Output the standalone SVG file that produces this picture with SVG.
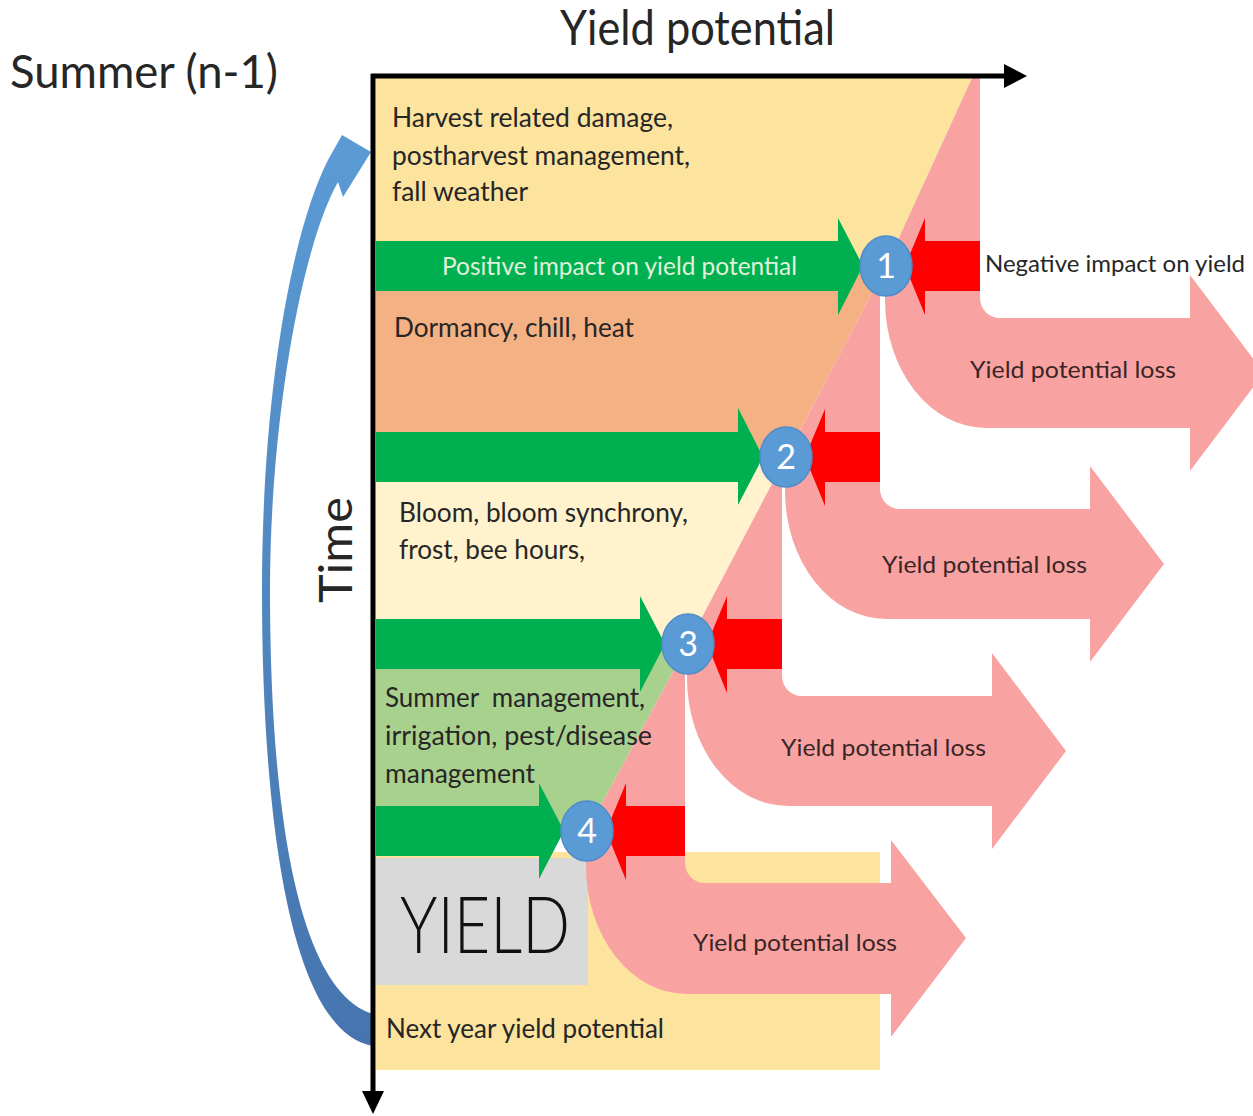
<svg xmlns="http://www.w3.org/2000/svg" width="1253" height="1116" viewBox="0 0 1253 1116">
<style>
.t{font-family:Lato,"Liberation Sans",sans-serif;fill:#262626}
.b{font-size:27px}
.loss{font-size:24px;fill:#3a2626}
.num{font-family:Lato,"Liberation Sans",sans-serif;font-size:34px;fill:#ffffff;text-anchor:middle}
.pink{fill:#F8A3A2}
.green{fill:#00B050}
.red{fill:#FF0000}
.circ{fill:#5B9BD5;stroke:#4F8CC9;stroke-width:1.5}
</style>
<defs>
<linearGradient id="blueg" x1="0" y1="0" x2="0" y2="1">
<stop offset="0" stop-color="#5B9BD5"/>
<stop offset="1" stop-color="#4674AE"/>
</linearGradient>
</defs>
<rect width="1253" height="1116" fill="#ffffff"/>

<g id="bands">
<polygon points="376,78 972,78 886,266 376,266" fill="#FCE39E"/>
<polygon points="376,266 886,266 786,457 376,457" fill="#F4B183"/>
<polygon points="376,457 786,457 688,644 376,644" fill="#FFF2CC"/>
<polygon points="376,644 688,644 587,831 376,831" fill="#A9D18E"/>
<rect x="376" y="852" width="504" height="218" fill="#FCE39E"/>
<rect x="376" y="858" width="212" height="127" fill="#D9D9D9"/>
</g>

<g id="connectors">
<path class="pink" d="M972 78 L980 78 L980 298 A20 20 0 0 0 1000 318 L1190 318 L1190 275 L1264 373 L1190 471 L1190 428 L986 428 A101 128 0 0 1 885 300 L886 266 Z"/>
<path class="pink" d="M886 266 L880 266 L880 489 A20 20 0 0 0 900 509 L1090 509 L1090 466 L1164 564 L1090 662 L1090 619 L886 619 A101 128 0 0 1 785 491 L786 457 Z"/>
<path class="pink" d="M786 457 L782 457 L782 676 A20 20 0 0 0 802 696 L992 696 L992 653 L1066 751 L992 849 L992 806 L788 806 A101 128 0 0 1 687 678 L688 644 Z"/>
<path class="pink" d="M688 644 L685 644 L685 863 A20 20 0 0 0 705 883 L891 883 L891 840 L966 938 L891 1037 L891 994 L687 994 A101 128 0 0 1 586 865 L587 831 Z"/>

<polygon class="green" points="376,241 838,241 838,218 863,266 838,315 838,291 376,291"/>
<polygon class="green" points="376,432 738,432 738,408 763,457 738,505 738,482 376,482"/>
<polygon class="green" points="376,619 640,619 640,596 665,644 640,692 640,669 376,669"/>
<polygon class="green" points="376,806 539,806 539,783 564,831 539,879 539,856 376,856"/>

<polygon class="red" points="980,241 925,241 925,218 905,266 925,315 925,291 980,291"/>
<polygon class="red" points="880,432 825,432 825,409 805,457 825,506 825,482 880,482"/>
<polygon class="red" points="782,619 727,619 727,596 707,644 727,693 727,669 782,669"/>
<polygon class="red" points="685,806 626,806 626,783 606,831 626,880 626,856 685,856"/>

<path fill="url(#blueg)" d="M373 1046 C290 1032 262 820 262 590 C262 400 290 235 328 160 L342 135 L371 152 L343 197 L338 182 C302 245 270 420 270 590 C270 820 300 992 373 1014 Z"/>

<line x1="371" y1="76" x2="1008" y2="76" stroke="#000" stroke-width="5"/>
<polygon points="1004,64 1027,76 1004,88" fill="#000"/>
<line x1="373" y1="74" x2="373" y2="1094" stroke="#000" stroke-width="5"/>
<polygon points="362,1091 373,1114 384,1091" fill="#000"/>
</g>

<g id="node1"><ellipse class="circ" cx="886" cy="266" rx="26" ry="30"/><text class="num" x="886" y="278">1</text></g>
<g id="node2"><ellipse class="circ" cx="786" cy="457" rx="26" ry="30"/><text class="num" x="786" y="469">2</text></g>
<g id="node3"><ellipse class="circ" cx="688" cy="644" rx="26" ry="30"/><text class="num" x="688" y="656">3</text></g>
<g id="node4"><ellipse class="circ" cx="587" cy="831" rx="26" ry="30"/><text class="num" x="587" y="843">4</text></g>

<g id="labels">
<text class="t" x="560" y="45" font-size="48" textLength="275" lengthAdjust="spacingAndGlyphs">Yield potential</text>
<text class="t" x="10" y="88" font-size="46" textLength="268" lengthAdjust="spacingAndGlyphs">Summer (n-1)</text>
<text class="t" font-size="46" text-anchor="middle" textLength="106" lengthAdjust="spacingAndGlyphs" transform="translate(352 550) rotate(-90)">Time</text>

<text class="t b" x="392" y="127" textLength="281" lengthAdjust="spacingAndGlyphs">Harvest related damage,</text>
<text class="t b" x="392" y="165" textLength="298" lengthAdjust="spacingAndGlyphs">postharvest management,</text>
<text class="t b" x="392" y="201" textLength="136" lengthAdjust="spacingAndGlyphs">fall weather</text>

<text class="t" x="442" y="275" font-size="25" style="fill:#E2F0D9" textLength="355" lengthAdjust="spacingAndGlyphs">Positive impact on yield potential</text>
<text class="t" x="985" y="272" font-size="24" textLength="260" lengthAdjust="spacingAndGlyphs">Negative impact on yield</text>

<text class="t b" x="394" y="337" textLength="240" lengthAdjust="spacingAndGlyphs">Dormancy, chill, heat</text>
<text class="t b" x="399" y="522" textLength="289" lengthAdjust="spacingAndGlyphs">Bloom, bloom synchrony,</text>
<text class="t b" x="399" y="559" textLength="186" lengthAdjust="spacingAndGlyphs">frost, bee hours,</text>
<text class="t b" x="385" y="707" textLength="260" lengthAdjust="spacingAndGlyphs" xml:space="preserve">Summer  management,</text>
<text class="t b" x="385" y="745" textLength="267" lengthAdjust="spacingAndGlyphs">irrigation, pest/disease</text>
<text class="t b" x="385" y="783" textLength="150" lengthAdjust="spacingAndGlyphs">management</text>
<text class="t b" x="386" y="1038" textLength="278" lengthAdjust="spacingAndGlyphs">Next year yield potential</text>

<text class="t" x="400" y="953" font-size="78" font-weight="300" style="fill:#111" textLength="170" lengthAdjust="spacingAndGlyphs">YIELD</text>

<text class="t loss" x="970" y="378" textLength="206" lengthAdjust="spacingAndGlyphs">Yield potential loss</text>
<text class="t loss" x="882" y="573" textLength="205" lengthAdjust="spacingAndGlyphs">Yield potential loss</text>
<text class="t loss" x="781" y="756" textLength="205" lengthAdjust="spacingAndGlyphs">Yield potential loss</text>
<text class="t loss" x="693" y="951" textLength="204" lengthAdjust="spacingAndGlyphs">Yield potential loss</text>
</g>
</svg>
